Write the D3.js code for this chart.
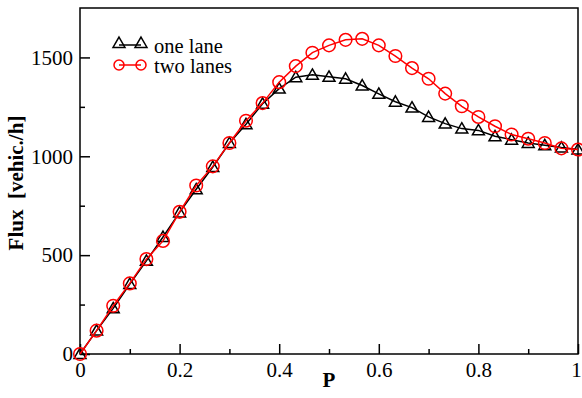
<!DOCTYPE html>
<html>
<head>
<meta charset="utf-8">
<script src="https://cdnjs.cloudflare.com/ajax/libs/d3/7.8.5/d3.min.js"></script>
<style>
  html, body { margin: 0; padding: 0; background: #fff; }
  svg { display: block; }
  svg text { font-family: "Liberation Serif", "Times New Roman", Times, serif !important; }
</style>
</head>
<body>
<div id="vis"></div>
<script>
// density values P = 0, 1/30, ... 1
var density = d3.range(0, 31).map(function (i) { return i / 30; });

var oneLane = [0, 118, 231, 354, 471, 592, 716, 833, 946, 1067, 1162, 1266, 1342, 1400, 1412,
  1402, 1392, 1358, 1316, 1276, 1246, 1199, 1165, 1140, 1131, 1101, 1084, 1067, 1056, 1044, 1034];

var twoLanes = [0, 118, 244, 357, 480, 572, 719, 852, 949, 1067, 1180, 1269, 1375, 1456, 1524,
  1561, 1589, 1594, 1561, 1507, 1446, 1392, 1317, 1253, 1199, 1152, 1110, 1089, 1067, 1040, 1034];

var xTicks = [0, 0.2, 0.4, 0.6, 0.8, 1];
var xMinor = [0.1, 0.3, 0.5, 0.7, 0.9];
var yTicks = [0, 500, 1000, 1500];
var yMinor = [250, 750, 1250];

var width = 582, height = 398;
var margin = { top: 8, right: 4, bottom: 44, left: 80 };
var fs = 21;

var svg = d3.select("#vis").append("svg")
  .attr("width", width)
  .attr("height", height);

var x = d3.scaleLinear().domain([0, 1]).range([margin.left, width - margin.right]);
var y = d3.scaleLinear().domain([0, 1750]).range([height - margin.bottom, margin.top]);

// major / minor ticks, pointing inward
var xAxis = svg.append("g").attr("transform", "translate(0," + y(0) + ")");
xAxis.call(d3.axisBottom(x).tickValues(xTicks).tickSizeInner(-10).tickSizeOuter(0)
  .tickFormat(function (d) { return d === 0 || d === 1 ? d : d3.format(".1f")(d); }));
xAxis.append("g").call(d3.axisBottom(x).tickValues(xMinor).tickSizeInner(-5).tickSizeOuter(0).tickFormat(""));

var yAxis = svg.append("g").attr("transform", "translate(" + x(0) + ",0)");
yAxis.call(d3.axisLeft(y).tickValues(yTicks).tickSizeInner(-10).tickSizeOuter(0).tickFormat(d3.format("d")));
yAxis.append("g").call(d3.axisLeft(y).tickValues(yMinor).tickSizeInner(-5).tickSizeOuter(0).tickFormat(""));

svg.selectAll(".domain").remove();
svg.selectAll(".tick line").attr("stroke", "#000").attr("stroke-width", 1.5);
xAxis.selectAll(".tick text")
  .attr("font-size", fs).attr("fill", "#000").attr("dy", "0.71em").attr("y", 8)
  .attr("dx", function (d) { return d === 1 ? -2 : 0; });
yAxis.selectAll(".tick text")
  .attr("font-size", fs).attr("fill", "#000").attr("x", -7);

// frame
svg.append("rect")
  .attr("x", x(0)).attr("y", y(1750))
  .attr("width", x(1) - x(0)).attr("height", y(0) - y(1750))
  .attr("fill", "none").attr("stroke", "#000").attr("stroke-width", 1.5);

// axis labels
svg.append("text")
  .attr("x", (x(0) + x(1)) / 2).attr("y", 387)
  .attr("text-anchor", "middle")
  .attr("font-size", fs).attr("font-weight", "bold")
  .text("P");

svg.append("text")
  .attr("transform", "translate(23,183) rotate(-90)")
  .attr("text-anchor", "middle")
  .attr("font-size", fs).attr("font-weight", "bold")
  .text("Flux\u00a0\u00a0[vehic./h]");

var line = d3.line()
  .x(function (d, i) { return x(density[i]); })
  .y(function (d) { return y(d); });

var tri = d3.symbol().type(d3.symbolTriangle).size(62);

function drawSeries(values, color, marker) {
  var g = svg.append("g");
  g.append("path").datum(values)
    .attr("d", line)
    .attr("fill", "none").attr("stroke", color).attr("stroke-width", 1.5);
  if (marker === "triangle") {
    g.selectAll("path.m").data(values).enter().append("path")
      .attr("class", "m")
      .attr("d", tri)
      .attr("transform", function (d, i) { return "translate(" + x(density[i]) + "," + (y(d) + 1) + ")"; })
      .attr("fill", "none").attr("stroke", color).attr("stroke-width", 1.5);
  } else {
    g.selectAll("circle").data(values).enter().append("circle")
      .attr("cx", function (d, i) { return x(density[i]); })
      .attr("cy", function (d) { return y(d); })
      .attr("r", 6.3)
      .attr("fill", "none").attr("stroke", color).attr("stroke-width", 1.5);
  }
}

drawSeries(oneLane, "#000", "triangle");
drawSeries(twoLanes, "#ff0000", "circle");

// legend
var legend = [
  { label: "one lane", color: "#000", marker: "triangle" },
  { label: "two lanes", color: "#ff0000", marker: "circle" }
];
legend.forEach(function (item, i) {
  var ly = 45 + i * 20;
  var g = svg.append("g");
  g.append("line").attr("x1", 119).attr("x2", 141).attr("y1", ly).attr("y2", ly)
    .attr("stroke", item.color).attr("stroke-width", 1.5);
  [119, 141].forEach(function (lx) {
    if (item.marker === "triangle") {
      g.append("path").attr("d", tri).attr("transform", "translate(" + lx + "," + (ly - 1) + ")")
        .attr("fill", "none").attr("stroke", item.color).attr("stroke-width", 1.5);
    } else {
      g.append("circle").attr("cx", lx).attr("cy", ly).attr("r", 5)
        .attr("fill", "none").attr("stroke", item.color).attr("stroke-width", 1.5);
    }
  });
  g.append("text").attr("x", 154).attr("y", ly + 7.5)
    .attr("font-size", 20.5).text(item.label);
});
</script>
</body>
</html>
